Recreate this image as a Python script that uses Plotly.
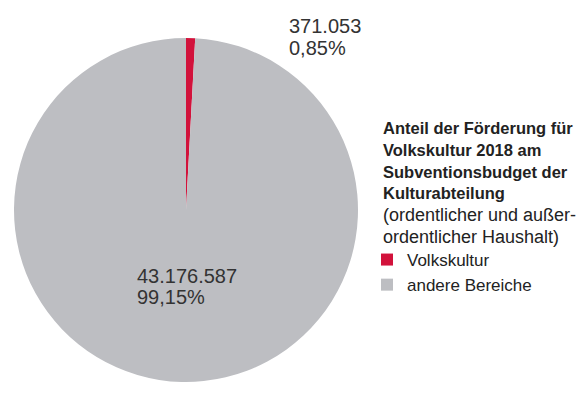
import plotly.graph_objects as go

# Förderung Volkskultur 2018 vs. andere Bereiche (Euro)
labels = ["Volkskultur", "andere Bereiche"]
values = [371053, 43176587]
colors = ["#d2123b", "#bdbec2"]

title_bold = [
    "Anteil der Förderung für",
    "Volkskultur 2018 am",
    "Subventionsbudget der",
    "Kulturabteilung",
]
title_normal = [
    "(ordentlicher und außer-",
    "ordentlicher Haushalt)",
]

FONT = "Liberation Sans, Arial, sans-serif"
W, H = 586, 417
OFF = 8  # page body margin around the plot div


def de_num(v):
    return f"{v:,}".replace(",", ".")


def de_pct(v):
    return f"{v:.2f}".replace(".", ",") + "%"


def add_line(fig, x, baseline, text, size, color="#333333"):
    # place one line of text by its left edge and baseline (page pixels)
    top = baseline - OFF - 1 - 0.905 * size
    fig.add_annotation(
        x=(x - OFF) / W, y=1 - top / H, xref="paper", yref="paper",
        xanchor="left", yanchor="top", align="left", showarrow=False,
        text=text, font=dict(family=FONT, size=size, color=color),
    )


total = sum(values)
pcts = [v / total * 100 for v in values]

fig = go.Figure(go.Pie(
    labels=labels,
    values=values,
    marker=dict(colors=colors, line=dict(width=0)),
    sort=False,
    direction="clockwise",
    rotation=0,
    textinfo="none",
    hoverinfo="label+value+percent",
    domain=dict(x=[(14 - OFF) / W, (358 - OFF) / W],
                y=[1 - (382 - OFF) / H, 1 - (38 - OFF) / H]),
))

add_line(fig, 287, 32, de_num(values[0]), 20)
add_line(fig, 287, 54, de_pct(pcts[0]), 20)
add_line(fig, 135, 282, de_num(values[1]), 20)
add_line(fig, 135, 303, de_pct(pcts[1]), 20)

for i, line in enumerate(title_bold):
    add_line(fig, 381, 133 + 21.8 * i, f"<b>{line}</b>", 16.5, "#222222")
for i, line in enumerate(title_normal):
    add_line(fig, 381, 133 + 21.8 * (i + len(title_bold)), line, 18, "#222222")

fig.update_layout(
    width=W, height=H,
    margin=dict(l=0, r=0, t=0, b=0),
    paper_bgcolor="white",
    plot_bgcolor="white",
    font=dict(family=FONT, size=17, color="#222222"),
    showlegend=True,
    legend=dict(
        x=(367 - OFF) / W, y=1 - (242 - OFF) / H, xanchor="left", yanchor="top",
        bgcolor="rgba(0,0,0,0)", itemclick=False, tracegroupgap=0,
        font=dict(family=FONT, size=17, color="#222222"),
    ),
)

fig.write_html("out.html")
